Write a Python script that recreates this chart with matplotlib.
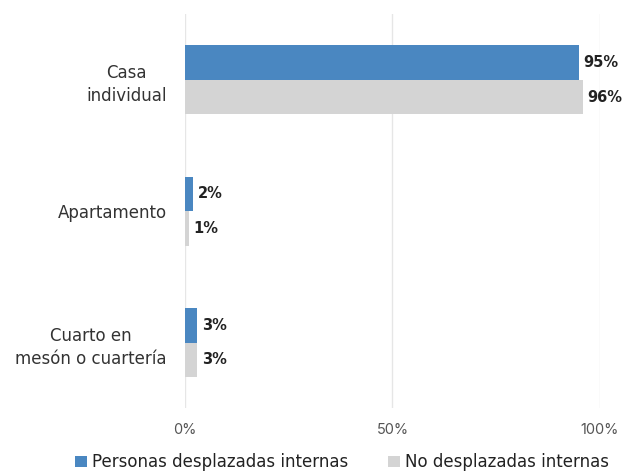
import matplotlib.pyplot as plt
import numpy as np

categories = ['Casa\nindividual', 'Apartamento', 'Cuarto en\nmesón o cuartería']
desplazadas = [95, 2, 3]
no_desplazadas = [96, 1, 3]
series_names = ['Personas desplazadas internas', 'No desplazadas internas']
xticks = [0, 50, 100]
xtick_labels = ['0%', '50%', '100%']

blue = '#4a87c1'
gray = '#d4d4d4'

fig = plt.figure(figsize=(6.24, 4.73), dpi=100)
ax = fig.add_axes([0.2965, 0.137, 0.665, 0.833])

y = np.arange(len(categories))
h = 0.263
b1 = ax.barh(y - h / 2, desplazadas, height=h, color=blue, label=series_names[0], zorder=3)
b2 = ax.barh(y + h / 2, no_desplazadas, height=h, color=gray, label=series_names[1], zorder=3)

for bars, vals in [(b1, desplazadas), (b2, no_desplazadas)]:
    for bar, v in zip(bars, vals):
        ax.annotate(f'{v}%', (bar.get_width(), bar.get_y() + bar.get_height() / 2),
                    xytext=(3, 0), textcoords='offset points',
                    va='center', ha='left', fontsize=10.5, fontweight='bold', color='#222222')

ax.set_ylim(2.5, -0.5)
ax.set_xlim(0, 100)
ax.set_yticks(y)
ax.set_yticklabels(categories, fontsize=12, color='#333333', multialignment='center',
                   linespacing=1.4)
ax.tick_params(axis='y', length=0, pad=13)
ax.set_xticks(xticks)
ax.set_xticklabels(xtick_labels, fontsize=10.5, color='#555555', family='Inter')
ax.tick_params(axis='x', length=0, pad=11)
ax.grid(axis='x', color='#e6e6e6', linewidth=1, zorder=0)
for s in ax.spines.values():
    s.set_visible(False)

fig.legend(loc='lower center', bbox_to_anchor=(0.548, -0.028), ncol=2, frameon=False,
           fontsize=12, handlelength=0.7, handleheight=0.7, handletextpad=0.3,
           columnspacing=2.4, labelcolor='#222222')

fig.savefig('out.png', dpi=100)
